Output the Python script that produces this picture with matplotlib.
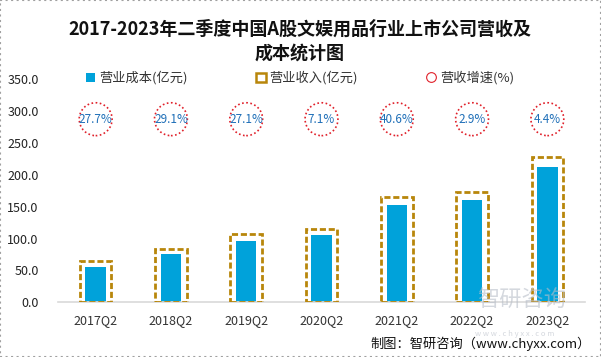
import matplotlib
matplotlib.use("Agg")
import matplotlib.pyplot as plt
from matplotlib.lines import Line2D
from matplotlib.patches import Patch

plt.rcParams['font.family'] = ['Noto Sans CJK SC', 'DejaVu Sans']

categories = ['2017Q2', '2018Q2', '2019Q2', '2020Q2', '2021Q2', '2022Q2', '2023Q2']
cost = [55.5, 75.8, 96.2, 105.6, 152.7, 160.6, 212.4]
revenue = [64.0, 83.0, 107.0, 114.5, 165.0, 173.0, 227.0]
growth = [27.7, 29.1, 27.1, 7.1, 40.6, 2.9, 4.4]
growth_level = 287  # vertical placement of growth markers on the value axis

title = '2017-2023年二季度中国A股文娱用品行业上市公司营收及\n成本统计图'
yticks = [0, 50, 100, 150, 200, 250, 300, 350]

blue = '#00A2DA'
gold = '#B8860B'
red = '#E0202A'
txtblue = '#1F6FB8'

fig = plt.figure(figsize=(6.01, 3.57), dpi=100)
ax = fig.add_axes([58/601, (357-302.3)/357, (585-58)/601, (302.3-79)/357])

x = list(range(len(categories)))
ax.bar(x, cost, width=0.27, color=blue, zorder=2)
ax.bar(x, revenue, width=0.42, fill=False, edgecolor=gold, linewidth=2,
       linestyle=(0, (2.2, 1.0)), zorder=3)
ax.scatter(x, [growth_level]*len(x), s=560, facecolors='none', edgecolors=red,
           linewidths=1.2, linestyles=(0, (1, 1.5)), zorder=3)
for xi, g in zip(x, growth):
    ax.text(xi, growth_level, f'{g:.1f}%', ha='center', va='center',
            fontsize=8.5, color=txtblue, zorder=4)

ax.set_xlim(-0.5, len(categories) - 0.5)
ax.set_ylim(0, 350)
ax.set_yticks(yticks)
ax.set_yticklabels([f'{v:.1f}' for v in yticks], fontsize=9, color='#222222')
ax.set_xticks(x)
ax.set_xticklabels(categories, fontsize=9, color='#333333')
ax.tick_params(axis='both', length=0)
ax.tick_params(axis='x', pad=8.5)
ax.tick_params(axis='y', pad=14)
for s in ['top', 'right', 'left']:
    ax.spines[s].set_visible(False)
ax.spines['bottom'].set_color('#D9D9D9')
ax.spines['bottom'].set_linewidth(1.2)

handles = [
    Patch(facecolor=blue, edgecolor='none', label='营业成本(亿元)'),
    Patch(facecolor='none', edgecolor=gold, linewidth=1.8, label='营业收入(亿元)'),
    Line2D([], [], marker='o', linestyle='none', markerfacecolor='none',
           markeredgecolor=red, markersize=7, markeredgewidth=0.8, label='营收增速(%)'),
]
fig.legend(handles=handles, loc='center', bbox_to_anchor=(300/601, (357-78)/357),
           ncol=3, frameon=False, fontsize=9.5, handlelength=0.7, handleheight=0.7,
           handletextpad=0.3, columnspacing=5.2, labelcolor='#333333')

fig.text(300/601, (357-41)/357, title, ha='center', va='center', fontsize=13,
         fontweight='bold', linespacing=1.35, color='#111111')

# watermark
fig.text(522/601, (357-300)/357, '智研咨询', ha='center', va='center', fontsize=16,
         color='#B8BEC8', alpha=0.6)
fig.text(515/601, (357-333.5)/357, 'w w w . c h y x x . c o m', ha='center', va='center',
         fontsize=5.5, color='#B8BEC8', alpha=0.6)

fig.text(591/601, (357-344)/357, '制图：智研咨询（www.chyxx.com）', ha='right', va='center',
         fontsize=9.5, color='#111111')

fig.patches.append(plt.Rectangle((0, 0), 1, 1, transform=fig.transFigure, fill=False,
                                 edgecolor='#A0A0A0', linewidth=1.5, linestyle=':'))

fig.savefig('out.png', dpi=100)
